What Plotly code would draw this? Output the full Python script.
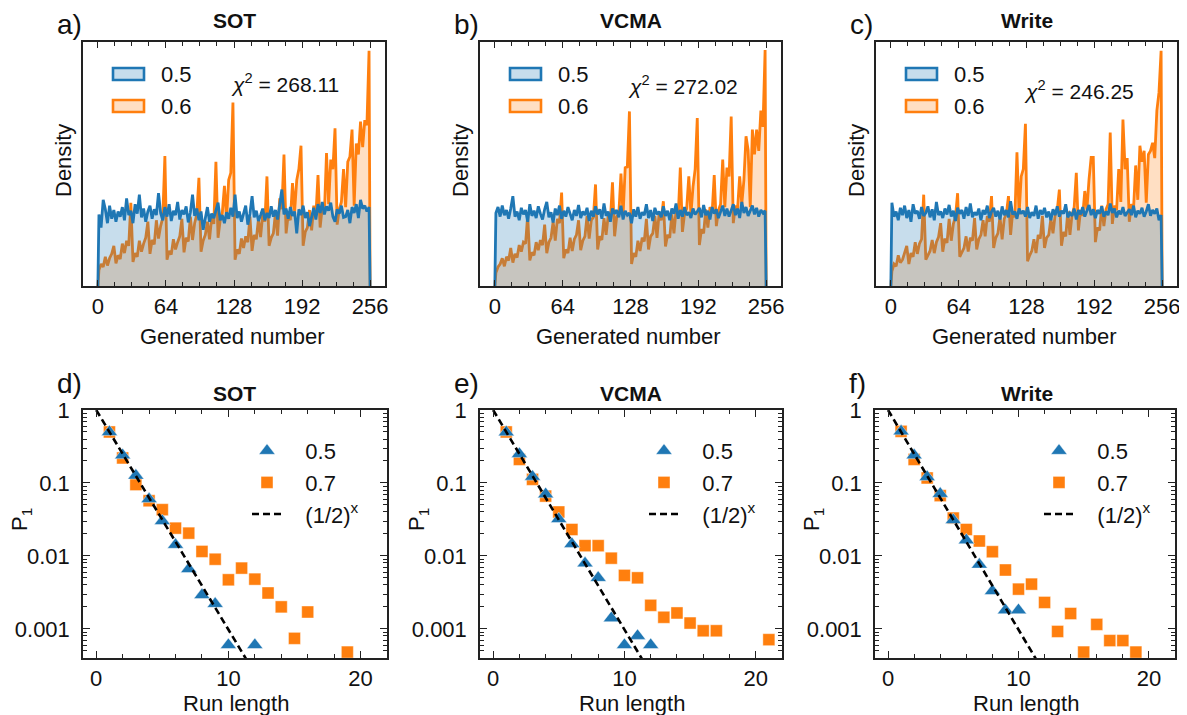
import plotly.graph_objects as go

W, H = 1187, 715
PAGE_PAD = 8  # default body margin of the html page
FIG_W, FIG_H = W - PAGE_PAD, H - PAGE_PAD
FONT = "Liberation Sans, Arial, sans-serif"
BLUE = "#1f77b4"
ORANGE = "#ff7f0e"
BLUE_FILL = "rgba(31,119,180,0.25)"
ORANGE_FILL = "rgba(255,127,14,0.25)"
INK = "#111111"

# ---------------- data: top row (relative density, odd generated numbers) ----------------
X_BINS = list(range(1, 256, 2))

SOT_05 = [0.98, 0.80, 1.18, 1.05, 0.86, 1.10, 0.92, 1.04, 0.88, 1.02, 0.95, 1.08, 0.90, 1.20, 0.97, 1.03,
          0.86, 1.12, 0.99, 1.25, 0.94, 1.06, 0.88, 1.02, 1.10, 0.92, 1.05, 0.97, 1.27, 1.00, 0.90, 1.08,
          0.95, 1.12, 0.89, 1.03, 0.97, 1.15, 0.91, 1.04, 0.98, 1.09, 0.87, 1.01, 1.25, 0.96, 1.06, 0.90,
          1.02, 0.77, 0.95, 1.08, 0.88, 0.99, 0.93, 1.05, 1.14, 0.90, 0.97, 0.86, 1.01, 0.92, 1.07, 0.95,
          1.25, 0.93, 1.02, 0.88, 0.98, 1.10, 0.84, 0.99, 1.23, 0.94, 1.03, 0.89, 0.97, 1.06, 0.90, 1.00,
          0.93, 1.09, 0.95, 1.04, 0.91, 1.13, 1.32, 0.98, 1.06, 0.92, 1.08, 0.96, 1.02, 0.72, 1.05, 0.97,
          1.10, 0.93, 1.01, 0.82, 0.96, 1.07, 0.91, 1.12, 1.00, 1.15, 0.98, 1.09, 1.03, 1.14, 0.95, 0.88,
          1.05, 0.99, 1.10, 0.94, 0.95, 1.04, 0.86, 1.08, 1.00, 1.12, 0.93, 1.18, 1.06, 1.10, 1.02, 1.08]
SOT_06 = [0.22, 0.30, 0.26, 0.40, 0.28, 0.38, 0.44, 0.55, 0.31, 0.42, 0.37, 0.58, 0.45, 0.62, 0.55, 1.14,
          0.33, 0.45, 0.40, 0.62, 0.47, 0.58, 0.66, 0.88, 0.44, 0.63, 0.57, 0.90, 0.65, 0.82, 0.93, 1.78,
          0.36, 0.48, 0.43, 0.64, 0.50, 0.60, 0.68, 0.92, 0.46, 0.66, 0.61, 0.95, 0.63, 0.86, 0.98, 1.48,
          0.47, 0.62, 0.70, 0.88, 0.64, 0.94, 0.85, 1.70, 0.66, 0.90, 1.00, 1.37, 0.92, 1.45, 1.55, 2.51,
          0.36, 0.50, 0.44, 0.65, 0.52, 0.68, 0.60, 0.95, 0.48, 0.70, 0.64, 0.92, 0.67, 0.98, 0.88, 1.50,
          0.55, 0.66, 0.72, 1.00, 0.69, 1.20, 1.05, 1.80, 0.72, 0.98, 0.90, 1.41, 1.02, 1.45, 1.60, 1.92,
          0.55, 0.74, 0.80, 1.04, 0.76, 1.10, 0.96, 1.52, 0.80, 1.08, 1.00, 1.82, 1.12, 1.73, 1.60, 2.16,
          0.84, 1.05, 1.15, 1.60, 1.08, 1.70, 1.77, 2.14, 1.10, 1.95, 1.80, 2.25, 1.90, 2.27, 2.20, 3.22]

VCMA_05 = [1.00, 1.08, 0.95, 1.10, 0.97, 1.04, 0.92, 1.06, 1.23, 0.95, 1.02, 0.90, 1.07, 0.98, 1.04, 0.88,
           1.12, 0.96, 1.03, 0.93, 1.09, 0.99, 0.91, 1.05, 1.15, 0.94, 1.01, 0.87, 1.06, 0.97, 1.10, 0.92,
           1.03, 0.95, 1.08, 0.99, 0.90, 1.04, 0.96, 1.11, 0.93, 1.02, 0.97, 1.07, 0.89, 1.03, 0.95, 1.09,
           0.98, 1.05, 0.92, 1.13, 0.96, 1.02, 0.88, 1.06, 0.99, 1.04, 0.94, 1.10, 0.91, 1.03, 0.97, 1.00,
           0.86, 1.05, 0.95, 1.08, 0.92, 1.01, 0.97, 1.12, 0.93, 1.04, 0.89, 1.07, 0.98, 1.02, 0.94, 1.09,
           0.96, 1.03, 0.90, 1.06, 0.99, 1.13, 0.92, 1.04, 0.95, 1.08, 0.97, 1.01, 0.93, 1.06, 0.98, 1.02,
           1.07, 0.94, 1.11, 0.97, 1.03, 0.91, 1.08, 0.99, 1.05, 0.93, 1.02, 1.10, 0.96, 1.06, 0.95, 1.04,
           1.12, 0.97, 1.06, 0.93, 1.15, 1.00, 1.08, 0.96, 1.03, 1.10, 0.98, 1.07, 0.95, 1.04, 1.00, 1.03]
VCMA_06 = [0.18, 0.26, 0.30, 0.38, 0.27, 0.40, 0.35, 0.52, 0.32, 0.44, 0.39, 0.56, 0.47, 0.60, 0.58, 0.97,
           0.35, 0.46, 0.42, 0.60, 0.49, 0.63, 0.56, 0.84, 0.45, 0.60, 0.66, 0.88, 0.62, 0.92, 0.86, 1.28,
           0.38, 0.50, 0.45, 0.66, 0.48, 0.64, 0.70, 0.90, 0.49, 0.62, 0.68, 0.96, 0.65, 0.90, 0.94, 1.39,
           0.50, 0.68, 0.63, 0.93, 0.70, 0.97, 0.90, 1.42, 0.68, 0.95, 0.99, 1.54, 0.97, 1.62, 1.63, 2.39,
           0.30, 0.45, 0.40, 0.62, 0.48, 0.66, 0.61, 0.92, 0.50, 0.68, 0.72, 0.96, 0.66, 1.00, 0.90, 1.16,
           0.54, 0.70, 0.66, 0.98, 0.72, 1.04, 0.95, 1.62, 0.74, 0.99, 1.06, 1.50, 0.98, 1.36, 1.60, 2.30,
           0.56, 0.78, 0.72, 1.05, 0.80, 1.08, 1.00, 1.52, 0.82, 1.04, 1.12, 1.73, 1.08, 1.62, 1.50, 2.32,
           0.86, 1.10, 1.05, 1.50, 1.12, 1.45, 2.05, 1.86, 1.08, 2.14, 1.80, 2.14, 1.85, 2.40, 2.18, 3.23]

WRITE_05 = [1.14, 0.95, 1.02, 0.90, 1.07, 0.97, 1.10, 0.93, 1.04, 0.88, 1.12, 0.99, 1.03, 0.92, 1.08, 0.96,
            1.00, 1.09, 0.94, 1.05, 0.90, 1.15, 0.97, 1.02, 0.93, 1.06, 0.98, 1.11, 0.95, 1.03, 0.89, 1.07,
            0.99, 1.04, 0.92, 1.08, 0.96, 1.13, 0.94, 1.01, 0.97, 1.06, 0.90, 1.04, 0.98, 1.10, 0.93, 1.02,
            1.07, 0.95, 1.03, 0.91, 1.09, 0.97, 1.04, 0.94, 1.16, 0.98, 1.02, 0.92, 1.06, 0.99, 1.03, 0.95,
            1.08, 0.93, 1.01, 0.96, 1.10, 0.92, 1.04, 0.98, 1.07, 0.94, 1.02, 0.90, 1.05, 0.97, 1.09, 0.95,
            1.03, 0.99, 1.12, 0.94, 1.00, 0.96, 1.06, 0.91, 1.04, 0.98, 1.08, 0.95, 1.02, 1.11, 0.97, 1.05,
            0.93, 1.04, 0.99, 1.09, 0.95, 1.02, 0.97, 1.13, 1.00, 1.06, 0.94, 1.03, 0.98, 1.08, 0.96, 1.01,
            1.05, 0.97, 1.10, 0.94, 1.03, 0.99, 1.07, 0.95, 1.02, 1.12, 0.96, 1.04, 0.99, 1.06, 0.90, 0.97]
WRITE_06 = [0.20, 0.30, 0.27, 0.42, 0.32, 0.36, 0.45, 0.55, 0.30, 0.45, 0.40, 0.60, 0.44, 0.58, 0.64, 1.25,
            0.36, 0.42, 0.48, 0.63, 0.45, 0.60, 0.67, 0.86, 0.47, 0.65, 0.59, 0.92, 0.62, 0.85, 0.95, 1.27,
            0.40, 0.46, 0.52, 0.68, 0.47, 0.66, 0.62, 0.93, 0.50, 0.64, 0.70, 0.90, 0.68, 0.96, 0.88, 1.23,
            0.52, 0.66, 0.72, 0.95, 0.64, 0.92, 0.99, 1.23, 0.70, 1.02, 0.94, 1.83, 0.98, 1.50, 1.60, 2.22,
            0.34, 0.42, 0.48, 0.64, 0.45, 0.70, 0.65, 0.96, 0.52, 0.66, 0.70, 0.92, 0.72, 0.97, 1.04, 1.32,
            0.55, 0.74, 0.68, 1.02, 0.70, 0.98, 1.08, 1.55, 0.76, 1.04, 0.96, 1.30, 1.05, 1.46, 1.76, 1.76,
            0.60, 0.80, 0.76, 1.10, 0.82, 1.05, 1.12, 2.10, 0.85, 1.10, 1.04, 1.60, 1.15, 2.28, 1.60, 1.75,
            0.88, 1.12, 1.06, 1.65, 1.18, 1.92, 1.70, 1.85, 1.14, 1.80, 1.85, 1.96, 1.75, 2.40, 2.65, 3.22]

CHI2 = ["268.11", "272.02", "246.25"]
DEVICES = ["SOT", "VCMA", "Write"]
TOP_LABELS = ["0.5", "0.6"]

# ---------------- data: bottom row (run length probability) ----------------
SOT_RL_05 = [1, 2, 3, 4, 5, 6, 7, 8, 9, 10, 12]
SOT_P1_05 = [0.50, 0.24, 0.126, 0.060, 0.030, 0.0142, 0.0066, 0.0029, 0.0022, 0.0006, 0.0006]
SOT_RL_07 = [1, 2, 3, 4, 5, 6, 7, 8, 9, 10, 11, 12, 13, 14, 15, 16, 19]
SOT_P1_07 = [0.50, 0.22, 0.095, 0.057, 0.043, 0.024, 0.0205, 0.0115, 0.0090, 0.0047, 0.0068,
             0.0048, 0.0031, 0.0020, 0.00074, 0.0017, 0.00048]

VCMA_RL_05 = [1, 2, 3, 4, 5, 6, 7, 8, 9, 10, 11, 12]
VCMA_P1_05 = [0.495, 0.25, 0.122, 0.070, 0.032, 0.0146, 0.0079, 0.0050, 0.0014, 0.0006, 0.0008, 0.0006]
VCMA_RL_07 = [1, 2, 3, 4, 5, 6, 7, 8, 9, 10, 11, 12, 13, 14, 15, 16, 17, 21]
VCMA_P1_07 = [0.50, 0.21, 0.112, 0.066, 0.040, 0.023, 0.0138, 0.0138, 0.0093, 0.0054, 0.0050,
              0.0021, 0.00144, 0.00165, 0.0012, 0.00094, 0.00094, 0.00071]

WRITE_RL_05 = [1, 2, 3, 4, 5, 6, 7, 8, 9, 10]
WRITE_P1_05 = [0.51, 0.24, 0.121, 0.071, 0.031, 0.0164, 0.0076, 0.0033, 0.0018, 0.0018]
WRITE_RL_07 = [1, 2, 3, 4, 5, 6, 7, 8, 9, 10, 11, 12, 13, 14, 15, 16, 17, 18, 19]
WRITE_P1_07 = [0.51, 0.21, 0.117, 0.067, 0.033, 0.023, 0.0160, 0.0114, 0.0064, 0.0035, 0.0041,
               0.0023, 0.00092, 0.00162, 0.00048, 0.00115, 0.00069, 0.00069, 0.00048]

# reference line (1/2)^x, straight on the log axis
DASH_X = [0, 12]
DASH_Y = [1.0, 0.000244]
BOTTOM_LABELS = ["0.5", "0.7", "(1/2)<sup>x</sup>"]

top_series = [(SOT_05, SOT_06), (VCMA_05, VCMA_06), (WRITE_05, WRITE_06)]
bottom_series = [
    (SOT_RL_05, SOT_P1_05, SOT_RL_07, SOT_P1_07),
    (VCMA_RL_05, VCMA_P1_05, VCMA_RL_07, VCMA_P1_07),
    (WRITE_RL_05, WRITE_P1_05, WRITE_RL_07, WRITE_P1_07),
]

# ---------------- layout geometry (screen pixels) ----------------
TOP_X = [(83, 385), (480, 781), (876, 1177)]
TOP_Y = (42, 286)
BOT_X = [(83, 387), (480, 782), (875, 1175)]
BOT_Y = (410, 658)
LETTERS_TOP = ["a)", "b)", "c)"]
LETTERS_BOT = ["d)", "e)", "f)"]
NBSP = "\u00a0"


def px(x):
    return (x - PAGE_PAD) / FIG_W


def py(y):
    return 1 - (y - PAGE_PAD) / FIG_H


def note(text, x, y, size=22, xanchor="center", angle=0):
    return dict(text=text, x=px(x), y=py(y), xref="paper", yref="paper", xanchor=xanchor,
                yanchor="middle", textangle=angle, showarrow=False,
                font=dict(family=FONT, size=size, color=INK))


fig = go.Figure()

axis_common = dict(showline=True, linecolor="#222222", linewidth=1.5, mirror="ticks",
                   showgrid=False, zeroline=False, tickcolor="#222222", tickwidth=1.4,
                   automargin=False, tickfont=dict(family=FONT, size=22, color=INK))

layout_axes = {}
for i in range(3):
    # top panels
    n = i + 1
    xa = "x" if n == 1 else f"x{n}"
    ya = "y" if n == 1 else f"y{n}"
    blue, orange = top_series[i]
    xs = [0] + X_BINS + [256]
    fig.add_trace(go.Scatter(x=xs, y=[0] + orange + [0], mode="lines", fill="tozeroy",
                             fillcolor=ORANGE_FILL, line=dict(color=ORANGE, width=2.8),
                             showlegend=False, xaxis=xa, yaxis=ya))
    fig.add_trace(go.Scatter(x=xs, y=[0] + blue + [0], mode="lines", fill="tozeroy",
                             fillcolor=BLUE_FILL, line=dict(color=BLUE, width=2.8),
                             showlegend=False, xaxis=xa, yaxis=ya))
    layout_axes["xaxis" if n == 1 else f"xaxis{n}"] = dict(
        axis_common, domain=[px(TOP_X[i][0]), px(TOP_X[i][1])], anchor=ya,
        range=[-14, 270], tickvals=[0, 64, 128, 192, 256], ticks="inside", ticklen=6,
        minor=dict(ticks="inside", ticklen=4, tickwidth=1.2, dtick=16, tick0=0, tickcolor="#222222"))
    layout_axes["yaxis" if n == 1 else f"yaxis{n}"] = dict(
        axis_common, domain=[py(TOP_Y[1]), py(TOP_Y[0])], anchor=xa,
        range=[0, 3.34], showticklabels=False, ticks="")

    # bottom panels
    m = i + 4
    xb, yb = f"x{m}", f"y{m}"
    rl5, p5, rl7, p7 = bottom_series[i]
    leg = "legend" if i == 0 else f"legend{i + 1}"
    fig.add_trace(go.Scatter(x=rl7, y=p7, mode="markers", name=NBSP * 3 + BOTTOM_LABELS[1],
                             marker=dict(symbol="square", size=12, color=ORANGE,
                                         line=dict(width=0.6, color="rgba(255,255,255,0.7)")),
                             legend=leg, legendrank=2, xaxis=xb, yaxis=yb))
    fig.add_trace(go.Scatter(x=rl5, y=p5, mode="markers", name=NBSP * 3 + BOTTOM_LABELS[0],
                             marker=dict(symbol="triangle-up", size=14, color=BLUE,
                                         line=dict(width=0.6, color="rgba(255,255,255,0.7)")),
                             legend=leg, legendrank=1, xaxis=xb, yaxis=yb))
    fig.add_trace(go.Scatter(x=DASH_X, y=DASH_Y, mode="lines", name=NBSP * 3 + BOTTOM_LABELS[2],
                             line=dict(color="black", width=2.6, dash="7px,4px"),
                             legend=leg, legendrank=3, xaxis=xb, yaxis=yb))
    minor_log = [k * 10.0 ** e for e in (-4, -3, -2, -1) for k in range(2, 10) if k * 10.0 ** e >= 4e-4]
    layout_axes[f"xaxis{m}"] = dict(
        axis_common, domain=[px(BOT_X[i][0]), px(BOT_X[i][1])], anchor=yb,
        range=[-1, 22], tickvals=[0, 10, 20], ticks="inside", ticklen=7,
        minor=dict(ticks="inside", ticklen=4, tickwidth=1.2, dtick=2, tick0=0, tickcolor="#222222"))
    layout_axes[f"yaxis{m}"] = dict(
        axis_common, domain=[py(BOT_Y[1]), py(BOT_Y[0])], anchor=xb,
        type="log", range=[-3.4, 0], tickvals=[1, 0.1, 0.01, 0.001],
        ticktext=["1", "0.1", "0.01", "0.001"], ticks="inside", ticklen=7, ticklabelstandoff=7,
        minor=dict(ticks="inside", ticklen=4, tickwidth=1.2, tickvals=minor_log, tickcolor="#222222"))

    layout_axes[leg] = dict(x=px(BOT_X[i][0] + 164), y=py(430), xanchor="left", yanchor="top",
                            bgcolor="rgba(0,0,0,0)", font=dict(family=FONT, size=22, color=INK),
                            itemwidth=30, tracegroupgap=0)

annotations = []
shapes = []
for i in range(3):
    tl, tr = TOP_X[i]
    bl, br = BOT_X[i]
    tc = (tl + tr) / 2
    bc = (bl + br) / 2
    # panel letters
    annotations.append(note(LETTERS_TOP[i], tl - 28, 24, size=28, xanchor="left"))
    annotations.append(note(LETTERS_BOT[i], bl - 28, 383, size=28, xanchor="left"))
    # titles
    for yy in (21, 393):
        annotations.append(note(f"<b>{DEVICES[i]}</b>", tc, yy, size=21))
    # axis titles
    annotations.append(note("Generated number", tc - 2, 336))
    annotations.append(note("Density", tl - 20, 161, angle=-90))
    annotations.append(note("Run length", bc + 1, 703))
    annotations.append(note("P<sub>1</sub>", bl - 62, 520, angle=-90))
    # chi-square
    chi_y = [83, 85, 90][i]
    annotations.append(note(f"<i>χ</i><sup>2</sup> = {CHI2[i]}", tl + 146, chi_y, size=21, xanchor="left"))
    # top legend patches
    for j, (lc, fc) in enumerate([(BLUE, BLUE_FILL), (ORANGE, ORANGE_FILL)]):
        y0 = 68 + 32 * j
        shapes.append(dict(type="rect", xref="paper", yref="paper", x0=px(tl + 30), x1=px(tl + 61),
                           y0=py(y0 + 12), y1=py(y0), fillcolor=fc, line=dict(color=lc, width=2.6)))
        annotations.append(note(TOP_LABELS[j], tl + 76, y0 + 6, xanchor="left"))

fig.update_layout(
    width=FIG_W, height=FIG_H,
    margin=dict(l=0, r=0, t=0, b=0, autoexpand=False),
    paper_bgcolor="white", plot_bgcolor="white",
    font=dict(family=FONT, size=22, color=INK),
    annotations=annotations, shapes=shapes,
    **layout_axes,
)

fig.write_html("out.html")
